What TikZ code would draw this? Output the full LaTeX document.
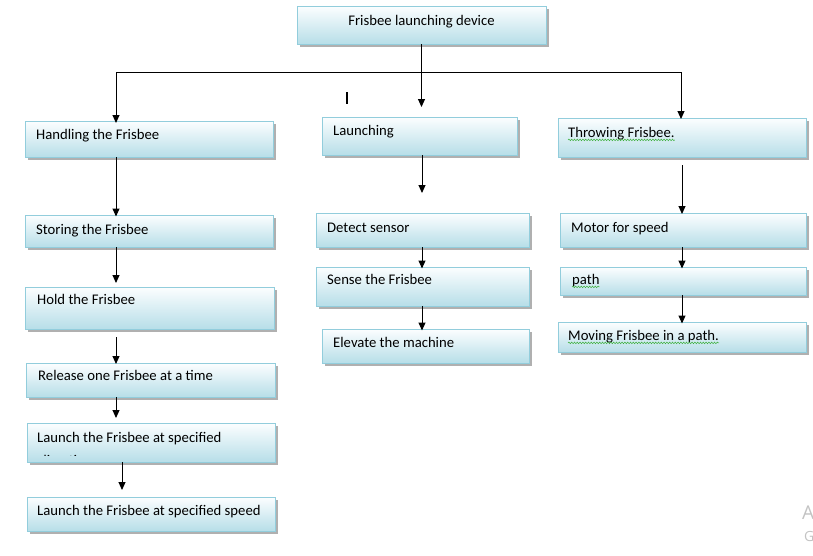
\documentclass[tikz,border=0pt]{standalone}
\usepackage{fontspec}
\setmainfont{Carlito}
\newfontfamily\wmfont{Open Sans}
\usetikzlibrary{arrows.meta,shadows,decorations.pathmorphing}
\definecolor{boxtop}{RGB}{252,254,255}
\definecolor{boxbot}{RGB}{183,222,232}
\definecolor{boxline}{RGB}{146,205,220}
\definecolor{shadowgray}{RGB}{150,150,150}
\definecolor{squig}{RGB}{60,175,60}
\definecolor{wm}{RGB}{195,195,195}
\tikzset{
  boxnode/.style={draw=boxline, line width=0.9pt, top color=boxtop, bottom color=boxbot,
    anchor=north west, inner sep=0pt, outer sep=0pt,
    drop shadow={shadow xshift=2.5pt, shadow yshift=-2.5pt, fill=shadowgray, opacity=0.75}},
  lbl/.style={font=\fontsize{14.7}{21}\selectfont, anchor=mid west, inner sep=0pt, align=left, yshift=-3pt},
  conn/.style={line width=1pt, -{Triangle[width=7pt,length=8pt]}},
  plain/.style={line width=1pt},
  squiggle/.style={draw=squig, line width=0.5pt, decorate,
    decoration={snake, amplitude=0.8pt, segment length=2.8pt}},
}
\newcommand{\bx}[5]{%
  \node[boxnode, minimum width={(#4-#2)*1pt}, minimum height={(#5-#3)*1pt}] (#1) at (#2,#3) {};}
\begin{document}
\begin{tikzpicture}[x=1pt,y=-1pt]
\useasboundingbox[fill=white] (0,0) rectangle (813,555);
% boxes
\bx{top}{297}{6}{546}{44}
\bx{hand}{25}{121}{273}{157}
\bx{store}{25}{215}{273}{247}
\bx{hold}{25}{287}{274}{329}
\bx{release}{26}{363}{275}{397}
\bx{spec}{27}{423}{275}{462}
\bx{speed}{27}{497}{275}{531}
\bx{launch}{322}{117}{517}{155}
\bx{detect}{316}{213}{529}{247}
\bx{sense}{316}{267}{529}{306}
\bx{elev}{322}{329}{529}{363}
\bx{throw}{558}{118}{806}{157}
\bx{motor}{560}{213}{806}{247}
\bx{path}{560}{267}{806}{295}
\bx{moving}{558}{322}{806}{352}
% labels
\node[lbl, anchor=mid] (ttop) at (421.5,20) {Frisbee launching device};
\node[lbl] (thand) at (36,134) {Handling the Frisbee};
\node[lbl] (tstore) at (36,229) {Storing the Frisbee};
\node[lbl] (thold) at (37,299) {Hold the Frisbee};
\node[lbl] (trelease) at (38,375) {Release one Frisbee at a time};
\node[lbl] (tspec) at (37,437) {Launch the Frisbee at specified};
\begin{scope}
\clip (27,423) rectangle (275,455);
\node[lbl] (tdir) at (39,460) {direction};
\end{scope}
\node[lbl] (tspeed) at (37,510) {Launch the Frisbee at specified speed};
\node[lbl] (tlaunch) at (333,130) {Launching};
\node[lbl] (tdetect) at (327,227) {Detect sensor};
\node[lbl] (tsense) at (327,279) {Sense the Frisbee};
\node[lbl] (telev) at (333,342) {Elevate the machine};
\node[lbl] (tthrow) at (568,132) {Throwing Frisbee.};
\node[lbl] (tmotor) at (571,227) {Motor for speed};
\node[lbl] (tpath) at (572,279) {path};
\node[lbl] (tmoving) at (568,335) {Moving Frisbee in a path.};
% spelling squiggles
\draw[squiggle] ([yshift=-2.5pt]tthrow.base west) -- ([yshift=-2.5pt]tthrow.base east);
\draw[squiggle] ([yshift=-2.5pt]tpath.base west) -- ([yshift=-2.5pt]tpath.base east);
\draw[squiggle] ([yshift=-2.5pt]tmoving.base west) -- ([yshift=-2.5pt]tmoving.base east);
% coordinates
\coordinate (hubL) at (116,72);
\coordinate (hubM) at (421.5,72);
\coordinate (hubR) at (681,72);
\coordinate (launchIn) at (421.5,107);
\coordinate (colL) at (116,0);
\coordinate (colL2) at (122,0);
\coordinate (colM) at (422,0);
\coordinate (colR) at (682,0);
\coordinate (holdIn) at (116,283);
\coordinate (holdOut) at (116,337);
\coordinate (specIn) at (116,418);
\coordinate (speedIn) at (122,490);
\coordinate (detectIn) at (422,193);
\coordinate (throwOut) at (682,165);
% connectors
\draw[plain] (top.south) -- (hubM);
\draw[plain] (hubL) -- (hubR);
\draw[conn] (hubL) -- ([yshift=-2pt]hand.north -| hubL);
\draw[conn] (hubM) -- (launchIn);
\draw[conn] (hubR) -- ([yshift=-1pt]throw.north -| hubR);
\draw[conn] (hand.south -| colL) -- ([yshift=-1.5pt]store.north -| colL);
\draw[conn] (store.south -| colL) -- (holdIn);
\draw[conn] (holdOut) -- ([yshift=-1pt]release.north -| colL);
\draw[conn] (release.south -| colL) -- (specIn);
\draw[conn] (spec.south -| colL2) -- (speedIn);
\draw[conn] (launch.south -| colM) -- (detectIn);
\draw[conn] (detect.south -| colM) -- ([yshift=-1.5pt]sense.north -| colM);
\draw[conn] (sense.south -| colM) -- ([yshift=-1.5pt]elev.north -| colM);
\draw[conn] (throwOut) -- ([yshift=-1pt]motor.north -| colR);
\draw[conn] (motor.south -| colR) -- ([yshift=-1.5pt]path.north -| colR);
\draw[conn] (path.south -| colR) -- ([yshift=-1.5pt]moving.north -| colR);
% text cursor mark
\coordinate (curA) at (347,92);
\coordinate (curB) at (347,104);
\draw[line width=2pt] (curA) -- (curB);
% watermark remnants
\node[font=\wmfont\fontsize{19}{19}\selectfont, text=wm, anchor=west, inner sep=0pt] (wmA) at (802,513) {A};
\node[font=\wmfont\fontsize{14}{14}\selectfont, text=wm, anchor=west, inner sep=0pt] (wmG) at (804,536) {G};
\end{tikzpicture}
\end{document}
